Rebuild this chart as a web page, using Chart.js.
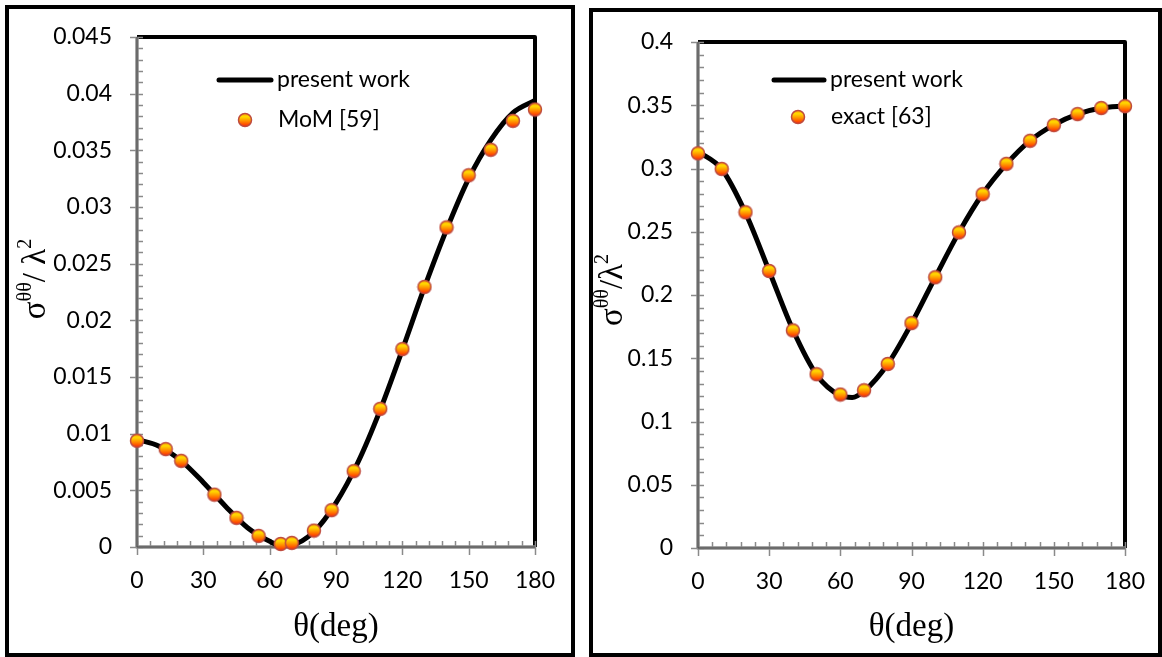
<!DOCTYPE html>
<html lang="en">
<head>
    <meta charset="UTF-8">
    <title>Scattering cross-section vs angle</title>
    <style>
        * { margin: 0; padding: 0; box-sizing: border-box; }
        body { background: #fff; width: 1162px; height: 657px; overflow: hidden; position: relative; }
        .panel { position: absolute; border: 4px solid #000; background: #fff; }
        #leftPanel { left: 5px; top: 5px; width: 570px; height: 652px; }
        #rightPanel { left: 589px; top: 8px; width: 573px; height: 649px; }
        canvas { display: block; }
    </style>
</head>
<body>
    <div class="panel" id="leftPanel"><canvas id="leftChart" width="562" height="644"></canvas></div>
    <div class="panel" id="rightPanel"><canvas id="rightChart" width="565" height="641"></canvas></div>

    <script src="https://cdn.jsdelivr.net/npm/chart.js"></script>
    <script>
        // tick values
        const xTicks = [0, 30, 60, 90, 120, 150, 180];
        const leftYTicks = [0, 0.005, 0.01, 0.015, 0.02, 0.025, 0.03, 0.035, 0.04, 0.045];
        const rightYTicks = [0, 0.05, 0.1, 0.15, 0.2, 0.25, 0.3, 0.35, 0.4];

        // left panel: present work (line) and MoM [59] (points)
        const leftLineTheta = [0, 10, 20, 30, 40, 50, 60, 65, 70, 80, 90, 100, 110, 120, 130, 140, 150, 160, 170, 180];
        const leftLineSigma = [0.0095, 0.0089, 0.0076, 0.0057, 0.0036, 0.0017, 0.0005, 0.00015, 0.0002, 0.00135, 0.0039, 0.0075, 0.0121, 0.0174, 0.0229, 0.0280, 0.0325, 0.0359, 0.0383, 0.0394];
        const momTheta = [0, 13, 20, 35, 45, 55, 65, 70, 80, 88, 98, 110, 120, 130, 140, 150, 160, 170, 180];
        const momSigma = [0.00938, 0.00864, 0.0076, 0.00462, 0.00257, 0.00098, 0.00027, 0.00036, 0.00145, 0.00325, 0.00669, 0.01219, 0.01746, 0.02295, 0.0282, 0.0328, 0.03505, 0.0376, 0.0386];

        // right panel: present work (line) and exact [63] (points)
        const rightLineTheta = [0, 10, 20, 30, 40, 50, 60, 65, 70, 80, 90, 100, 110, 120, 130, 140, 150, 160, 170, 180];
        const rightLineSigma = [0.3135, 0.2995, 0.265, 0.219, 0.1725, 0.137, 0.1205, 0.119, 0.124, 0.1455, 0.1775, 0.214, 0.2495, 0.28, 0.3035, 0.322, 0.3345, 0.343, 0.3478, 0.3495];
        const exactTheta = [0, 10, 20, 30, 40, 50, 60, 70, 80, 90, 100, 110, 120, 130, 140, 150, 160, 170, 180];
        const exactSigma = [0.312, 0.2997, 0.2654, 0.219, 0.172, 0.1374, 0.1213, 0.1247, 0.1455, 0.1778, 0.214, 0.2495, 0.2797, 0.3037, 0.3219, 0.3343, 0.343, 0.3478, 0.3493];

        const tickFont = { family: "Lato", size: 23 };

        // orange ball marker, used for points and legend
        function makeBall(r) {
            const c = document.createElement("canvas");
            const s = Math.ceil(r * 2 + 3);
            c.width = c.height = s;
            const g = c.getContext("2d");
            const grad = g.createLinearGradient(0, s / 2 - r, 0, s / 2 + r);
            grad.addColorStop(0, "#ff9a00");
            grad.addColorStop(0.25, "#ffdc00");
            grad.addColorStop(0.6, "#ff8a00");
            grad.addColorStop(1, "#ff2400");
            g.beginPath();
            g.arc(s / 2, s / 2, r, 0, Math.PI * 2);
            g.fillStyle = grad;
            g.fill();
            g.lineWidth = 1.5;
            g.strokeStyle = "#bf4b3e";
            g.stroke();
            return c;
        }
        const ball = makeBall(6.5);

        function toXY(xs, ys) { return xs.map((x, i) => ({ x: x, y: ys[i] })); }

        // axes, ticks and the black box on top/right of the plot
        const axesPlugin = {
            id: "axesBox",
            beforeDatasetsDraw(chart, args, opts) {
                const { ctx, chartArea: a, scales: { x, y } } = chart;
                ctx.save();
                ctx.strokeStyle = "#000";
                ctx.lineWidth = 4;
                ctx.lineJoin = "round";
                ctx.beginPath();
                ctx.moveTo(a.left, a.top);
                ctx.lineTo(a.right, a.top);
                ctx.lineTo(a.right, a.bottom);
                ctx.stroke();

                ctx.strokeStyle = "#8a8a8a";
                ctx.lineWidth = 1.5;
                // x ticks
                for (let v = 0; v <= 180; v += 6) {
                    const px = Math.round(x.getPixelForValue(v)) + 0.5;
                    const major = v % 30 === 0;
                    ctx.beginPath();
                    ctx.moveTo(px, a.bottom - 6);
                    ctx.lineTo(px, a.bottom + (major ? 8 : 0));
                    ctx.stroke();
                }
                // y ticks
                const ys = opts.yTicks;
                const step = (ys[1] - ys[0]) / 5;
                for (let i = 0; i <= (ys.length - 1) * 5; i++) {
                    const py = Math.round(y.getPixelForValue(i * step)) + 0.5;
                    const major = i % 5 === 0;
                    ctx.beginPath();
                    ctx.moveTo(a.left - (major ? 7 : 0), py);
                    ctx.lineTo(a.left + 6, py);
                    ctx.stroke();
                }
                // axis lines
                ctx.lineWidth = 3.5;
                ctx.strokeStyle = "#8c8c8c";
                ctx.beginPath();
                ctx.moveTo(a.left, a.top);
                ctx.lineTo(a.left, a.bottom);
                ctx.lineTo(a.right, a.bottom);
                ctx.stroke();
                ctx.lineWidth = 1;
                ctx.strokeStyle = "#4a4a4a";
                ctx.stroke();
                ctx.restore();
            }
        };

        // legend inside the plot and the rotated y title with superscripts
        const labelsPlugin = {
            id: "labels",
            afterDraw(chart, args, opts) {
                const ctx = chart.ctx;
                ctx.save();
                ctx.fillStyle = "#000";
                ctx.font = "23px Lato";
                ctx.textBaseline = "middle";
                const L = opts.legend;
                ctx.strokeStyle = "#000";
                ctx.lineWidth = 5;
                ctx.lineCap = "round";
                ctx.beginPath();
                ctx.moveTo(L.lineX0, L.lineY);
                ctx.lineTo(L.lineX1, L.lineY);
                ctx.stroke();
                ctx.fillText(L.lineText, L.textX, L.lineY);
                ctx.drawImage(ball, L.ballX - ball.width / 2, L.ballY - ball.height / 2);
                ctx.fillText(L.ballText, L.textX + 1, L.ballY);

                const T = opts.yTitle;
                ctx.translate(T.x, T.y);
                ctx.rotate(-Math.PI / 2);
                ctx.textBaseline = "alphabetic";
                const parts = T.parts;
                let w = 0;
                parts.forEach(p => {
                    ctx.font = (p.sup ? 20 : 33) + "px 'Liberation Serif'";
                    p.w = ctx.measureText(p.t).width;
                    w += p.w;
                });
                let cx = -w / 2;
                parts.forEach(p => {
                    ctx.font = (p.sup ? 20 : 33) + "px 'Liberation Serif'";
                    ctx.fillText(p.t, cx, p.sup ? -14 : 0);
                    cx += p.w;
                });
                ctx.restore();
            }
        };

        function makeChart(id, cfg) {
            return new Chart(document.getElementById(id), {
                type: "line",
                data: {
                    datasets: [
                        {
                            label: cfg.pointLabel,
                            data: toXY(cfg.pointTheta, cfg.pointSigma),
                            showLine: false,
                            pointStyle: ball,
                            pointRadius: 7,
                            order: 0,
                            clip: false
                        },
                        {
                            label: "present work",
                            data: toXY(cfg.lineTheta, cfg.lineSigma),
                            borderColor: "#000",
                            borderWidth: 5,
                            pointRadius: 0,
                            cubicInterpolationMode: "monotone",
                            order: 1,
                            clip: false
                        }
                    ]
                },
                options: {
                    responsive: false,
                    animation: false,
                    events: [],
                    layout: { padding: cfg.padding },
                    scales: {
                        x: {
                            type: "linear",
                            min: 0,
                            max: 180,
                            afterBuildTicks: s => { s.ticks = xTicks.map(v => ({ value: v })); },
                            afterFit: s => { s.height = cfg.xHeight; s.paddingLeft = 0; s.paddingRight = 0; },
                            grid: { display: false, drawTicks: false },
                            border: { display: false },
                            ticks: { font: tickFont, color: "#000", padding: 20, maxRotation: 0 },
                            title: {
                                display: true,
                                text: "θ(deg)",
                                font: { family: "Liberation Serif", size: 33 },
                                color: "#000",
                                padding: { top: 0, bottom: 6 }
                            }
                        },
                        y: {
                            min: 0,
                            max: cfg.yTicks[cfg.yTicks.length - 1],
                            afterBuildTicks: s => { s.ticks = cfg.yTicks.map(v => ({ value: v })); },
                            afterFit: s => { s.width = cfg.yWidth; s.paddingTop = 0; s.paddingBottom = 0; },
                            grid: { display: false, drawTicks: false },
                            border: { display: false },
                            ticks: {
                                font: tickFont,
                                color: "#000",
                                padding: 25,
                                callback: v => String(+v.toFixed(4))
                            }
                        }
                    },
                    plugins: {
                        legend: { display: false },
                        tooltip: { enabled: false },
                        axesBox: { yTicks: cfg.yTicks },
                        labels: { legend: cfg.legend, yTitle: cfg.yTitle }
                    }
                },
                plugins: [axesPlugin, labelsPlugin]
            });
        }

        makeChart("leftChart", {
            pointLabel: "MoM [59]",
            pointTheta: momTheta, pointSigma: momSigma,
            lineTheta: leftLineTheta, lineSigma: leftLineSigma,
            yTicks: leftYTicks,
            padding: { left: 0, right: 36, top: 28, bottom: 0 },
            xHeight: 106, yWidth: 128,
            legend: { lineX0: 210, lineX1: 262, lineY: 71, textX: 268, ballX: 236, ballY: 111, lineText: "present work", ballText: "MoM [59]" },
            yTitle: { x: 36, y: 270, parts: [{ t: "σ" }, { t: "θθ", sup: true }, { t: "/ λ" }, { t: "2", sup: true }] }
        });

        makeChart("rightChart", {
            pointLabel: "exact [63]",
            pointTheta: exactTheta, pointSigma: exactSigma,
            lineTheta: rightLineTheta, lineSigma: rightLineSigma,
            yTicks: rightYTicks,
            padding: { left: 0, right: 33, top: 30, bottom: 0 },
            xHeight: 105, yWidth: 105,
            legend: { lineX0: 181, lineX1: 231, lineY: 68, textX: 237, ballX: 205, ballY: 105, lineText: "present work", ballText: "exact [63]" },
            yTitle: { x: 29, y: 278, parts: [{ t: "σ" }, { t: "θθ", sup: true }, { t: "/λ" }, { t: "2", sup: true }] }
        });
    </script>
</body>
</html>
